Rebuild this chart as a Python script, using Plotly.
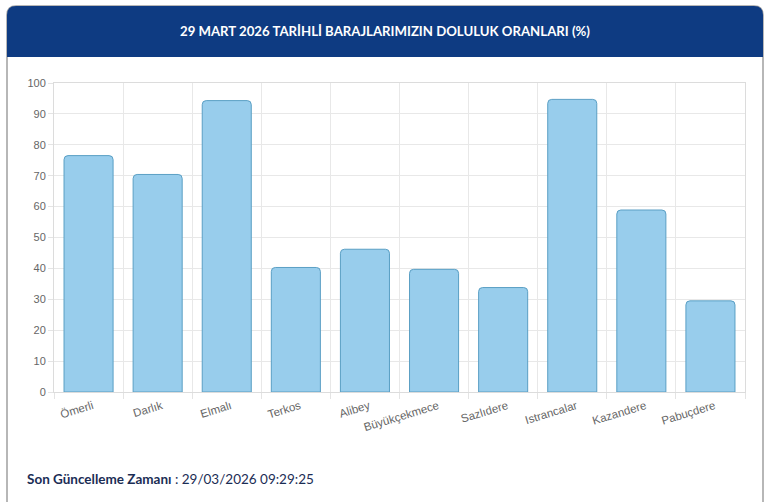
import plotly.graph_objects as go

# baraj doluluk oranlari (%), 29 Mart 2026
barajlar = ["Ömerli", "Darlık", "Elmalı", "Terkos", "Alibey", "Büyükçekmece",
            "Sazlıdere", "Istrancalar", "Kazandere", "Pabuçdere"]
doluluk = [76.5, 70.4, 94.3, 40.3, 46.2, 39.7, 33.8, 94.7, 58.9, 29.5]

W, H = 770, 502
L, R, T, B = 54, 25, 83, 110
pw, ph = W - L - R, H - T - B


def px(x):
    return (x - L) / pw


def py(y):
    return (H - B - y) / ph


def card_path(x0, y0, x1, y1, r, closed=True):
    # rounded top corners only, coordinates in pixels -> paper
    rx, ry = r / pw, r / ph
    p = "M {} {} ".format(px(x0), py(y1))
    p += "L {} {} ".format(px(x0), py(y0) - ry)
    p += "Q {} {} {} {} ".format(px(x0), py(y0), px(x0) + rx, py(y0))
    p += "L {} {} ".format(px(x1) - rx, py(y0))
    p += "Q {} {} {} {} ".format(px(x1), py(y0), px(x1), py(y0) - ry)
    p += "L {} {} ".format(px(x1), py(y1))
    if closed:
        p += "Z"
    return p


fig = go.Figure()
fig.add_trace(go.Bar(
    x=barajlar, y=doluluk,
    marker=dict(color="#98cdec", line=dict(color="#5a9fc4", width=1), cornerradius=4),
    hoverinfo="x+y",
))

shapes = [
    # card outline
    dict(type="path", xref="paper", yref="paper", path=card_path(7, 6, 763, 520, 9, closed=False),
         line=dict(color="#a0a0a0", width=1.5), layer="below"),
    # header band
    dict(type="path", xref="paper", yref="paper", path=card_path(7, 6, 763, 57, 9),
         fillcolor="#0e3b82", line=dict(width=0), layer="above"),
]

annotations = [
    dict(text="<b>29 MART 2026 TARİHLİ BARAJLARIMIZIN DOLULUK ORANLARI (%)</b>",
         xref="paper", yref="paper", x=px(385), y=py(31), yanchor="middle", showarrow=False,
         font=dict(family="Lato", size=13.2, color="white")),
    dict(text="<b>Son Güncelleme Zamanı</b> : 29/03/2026 09:29:25",
         xref="paper", yref="paper", x=px(25), y=py(479), xanchor="left", yanchor="middle",
         showarrow=False, font=dict(family="Lato", size=13.5, color="#1b2d55")),
]

fig.update_layout(
    width=W, height=H,
    margin=dict(l=L, r=R, t=T, b=B),
    paper_bgcolor="white", plot_bgcolor="white",
    bargap=0.29,
    showlegend=False,
    shapes=shapes,
    annotations=annotations,
    font=dict(family="Liberation Sans, Arial", size=11, color="#666666"),
)
fig.update_xaxes(
    tickson="boundaries", ticks="outside", ticklen=6, tickcolor="#e4e4e4",
    showgrid=True, gridcolor="#e8e8e8", tickangle=-17,
    ticklabelshift=4, ticklabelstandoff=2,
    showline=True, linecolor="#dcdcdc", mirror=True,
    tickfont=dict(size=11.5, color="#666666"),
)
fig.update_yaxes(
    range=[0, 100], dtick=10, ticks="outside", ticklen=5, tickcolor="#e4e4e4",
    showgrid=True, gridcolor="#e8e8e8", zeroline=False,
    showline=True, linecolor="#dcdcdc", mirror=True,
    tickfont=dict(size=11, color="#666666"),
)

fig.write_html("out.html", config={"displayModeBar": False},
               post_script="document.body.style.margin='0px';")
